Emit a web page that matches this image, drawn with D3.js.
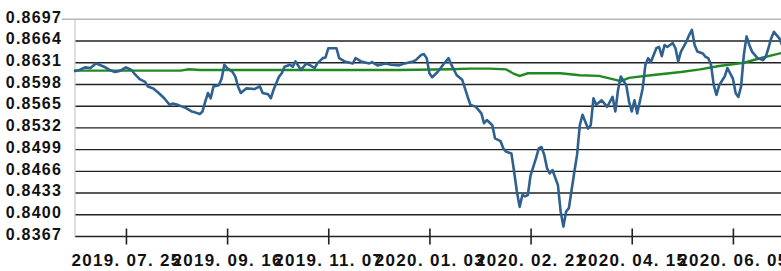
<!DOCTYPE html>
<html>
<head>
<meta charset="utf-8">
<script src="https://cdn.jsdelivr.net/npm/d3@7"></script>
<style>
  body { margin: 0; background: #fff; overflow: hidden; }
  text { font-family: "Liberation Sans", Arial, sans-serif; font-weight: bold; fill: #111; }
</style>
</head>
<body>
<div id="chart"></div>
<script>
// y axis ticks
const yTicks = [0.8367, 0.8400, 0.8433, 0.8466, 0.8499, 0.8532, 0.8565, 0.8598, 0.8631, 0.8664, 0.8697];

// x axis: trading-day index of each labelled tick
const tickDays = [19, 56, 93, 130, 167, 204, 241];
const tickLabels = ["2019. 07. 25", "2019. 09. 16", "2019. 11. 07", "2020. 01. 03", "2020. 02. 21", "2020. 04. 15", "2020. 06. 05"];

// daily rate (blue)
const rateDays = [0, 2, 4, 6, 8, 11, 13, 15, 17, 19, 21, 22, 24, 26, 27, 29, 31, 33, 35, 36, 38, 41, 43, 44, 46, 47, 48, 49, 50, 51,
  53, 54, 55, 56, 58, 59, 60, 61, 63, 66, 68, 69, 71, 72, 73, 75, 76, 77, 79, 80, 81, 83, 85, 86, 88, 89, 91, 92, 93, 94,
  96, 97, 99, 102, 103, 105, 108, 109, 111, 114, 116, 119, 121, 124, 125, 127, 128, 129, 130, 131, 133, 135, 137, 138, 140, 142, 143, 144, 145, 147,
  149, 150, 151, 153, 154, 156, 157, 158, 160, 161, 162, 163, 164, 165, 166, 167, 169, 170, 171, 172, 173, 174, 175, 177, 178, 179, 180, 181, 183, 184,
  185, 186, 188, 189, 190, 191, 193, 195, 197, 198, 199, 200, 202, 203, 204, 205, 206, 208, 209, 210, 211, 213, 214, 215, 216, 217, 219, 220, 221, 222,
  224, 225, 226, 227, 228, 230, 231, 232, 233, 234, 235, 236, 238, 239, 241, 242, 243, 244, 245, 246, 247, 248, 250, 252, 253, 254, 255, 256, 258, 259];
const rateValues = [0.8618, 0.8620, 0.8624, 0.8623, 0.8630, 0.8625, 0.8620, 0.8617, 0.8619, 0.8624, 0.8620, 0.8615, 0.8606, 0.8602, 0.8595, 0.8592, 0.8585, 0.8577, 0.8567, 0.8569,
  0.8567, 0.8562, 0.8557, 0.8556, 0.8553, 0.8557, 0.8572, 0.8585, 0.8577, 0.8595, 0.8597, 0.8607, 0.8628, 0.8623, 0.8617, 0.8610, 0.8595, 0.8585, 0.8592, 0.8591,
  0.8595, 0.8585, 0.8583, 0.8577, 0.8590, 0.8610, 0.8615, 0.8625, 0.8628, 0.8625, 0.8633, 0.8620, 0.8630, 0.8628, 0.8623, 0.8630, 0.8638, 0.8639, 0.8653, 0.8653,
  0.8653, 0.8638, 0.8633, 0.8630, 0.8638, 0.8633, 0.8630, 0.8632, 0.8627, 0.8630, 0.8628, 0.8627, 0.8630, 0.8633, 0.8635, 0.8643, 0.8644, 0.8638, 0.8615, 0.8609,
  0.8617, 0.8628, 0.8638, 0.8628, 0.8612, 0.8605, 0.8592, 0.8579, 0.8567, 0.8564, 0.8554, 0.8539, 0.8544, 0.8536, 0.8516, 0.8512, 0.8501, 0.8496, 0.8493, 0.8465,
  0.8435, 0.8412, 0.8430, 0.8428, 0.8430, 0.8460, 0.8486, 0.8501, 0.8503, 0.8491, 0.8471, 0.8463, 0.8468, 0.8445, 0.8405, 0.8382, 0.8405, 0.8410, 0.8465, 0.8491,
  0.8536, 0.8552, 0.8531, 0.8536, 0.8577, 0.8567, 0.8574, 0.8564, 0.8579, 0.8557, 0.8590, 0.8610, 0.8597, 0.8572, 0.8557, 0.8574, 0.8554, 0.8592, 0.8628, 0.8638,
  0.8632, 0.8653, 0.8655, 0.8641, 0.8658, 0.8655, 0.8661, 0.8653, 0.8633, 0.8648, 0.8663, 0.8673, 0.8681, 0.8658, 0.8648, 0.8645, 0.8640, 0.8638, 0.8628, 0.8597,
  0.8582, 0.8597, 0.8610, 0.8623, 0.8607, 0.8585, 0.8579, 0.8595, 0.8643, 0.8671, 0.8658, 0.8648, 0.8638, 0.8635, 0.8640, 0.8653, 0.8668, 0.8678, 0.8668, 0.8658];

// moving average (green)
const avgDays = [0, 17, 39, 42, 46, 64, 83, 101, 119, 138, 145, 152, 158, 161, 163, 166, 178, 185, 192, 197, 200, 203, 211, 222, 229, 236, 245, 252, 259];
const avgValues = [0.8619, 0.8619, 0.8619, 0.8621, 0.8620, 0.8620, 0.8620, 0.8620, 0.8620, 0.8621, 0.8622, 0.8622, 0.8621, 0.8614, 0.8611, 0.8615, 0.8615, 0.8612, 0.8611, 0.8606,
  0.8603, 0.8608, 0.8612, 0.8617, 0.8621, 0.8626, 0.8631, 0.8639, 0.8646];

const width = 781, height = 271;
const plotLeft = 75, plotTop = 19.3, plotBottom = 236.5;

const svg = d3.select("#chart").append("svg")
    .attr("width", width)
    .attr("height", height);

const x = d3.scaleLinear()
    .domain([0, 259])
    .range([74, 74 + 259 * 2.734]);

const y = d3.scaleLinear()
    .domain([d3.min(yTicks), d3.max(yTicks)])
    .range([plotBottom, plotTop]);

const yMax = d3.max(yTicks);

// gridlines
svg.append("g")
  .selectAll("line")
  .data(yTicks)
  .join("line")
    .attr("x1", d => d === yMax ? 62 : plotLeft)
    .attr("x2", width)
    .attr("y1", d => y(d))
    .attr("y2", d => y(d))
    .attr("stroke", d => d === yMax ? "#b5b5b5" : "#222")
    .attr("stroke-width", 1.4);

// left border
svg.append("line")
    .attr("x1", plotLeft).attr("x2", plotLeft)
    .attr("y1", plotTop).attr("y2", plotBottom)
    .attr("stroke", "#c8c8c8")
    .attr("stroke-width", 1.2);

// y labels
svg.append("g")
    .attr("transform", "translate(62,0)")
    .call(d3.axisLeft(y).tickValues(yTicks).tickSize(0).tickPadding(0).tickFormat(d3.format(".4f")))
    .call(g => g.select(".domain").remove())
    .selectAll("text")
      .attr("dy", "0.3em")
      .attr("transform", "translate(0,-2)")
      .style("font-size", "16px")
      .style("letter-spacing", "1.2px")
      .style("font-family", "'Liberation Sans', Arial, sans-serif")
      .style("font-weight", "bold")
      .attr("fill", "#111");

// x axis
const xAxis = svg.append("g")
    .attr("transform", `translate(0,${plotBottom})`)
    .call(d3.axisBottom(x).tickValues(tickDays).tickSize(9).tickPadding(8)
        .tickFormat((d, i) => tickLabels[i]));
xAxis.select(".domain").remove();
xAxis.selectAll(".tick line")
    .attr("y1", -8)
    .attr("y2", 8)
    .attr("stroke", "#222")
    .attr("stroke-width", 1.6);
xAxis.selectAll(".tick text")
    .style("font-size", "17px")
    .style("letter-spacing", "1.3px")
    .style("font-family", "'Liberation Sans', Arial, sans-serif")
    .style("font-weight", "bold")
    .attr("fill", "#111");

const line = d3.line()
    .x(d => x(d[0]))
    .y(d => y(d[1]));

svg.append("path")
    .datum(avgDays.map((d, i) => [d, avgValues[i]]))
    .attr("d", line)
    .attr("fill", "none")
    .attr("stroke", "#1f8a1f")
    .attr("stroke-width", 2.4);

svg.append("path")
    .datum(rateDays.map((d, i) => [d, rateValues[i]]))
    .attr("d", line)
    .attr("fill", "none")
    .attr("stroke", "#2e6190")
    .attr("stroke-width", 2.6)
    .attr("stroke-linejoin", "round");
</script>
</body>
</html>
